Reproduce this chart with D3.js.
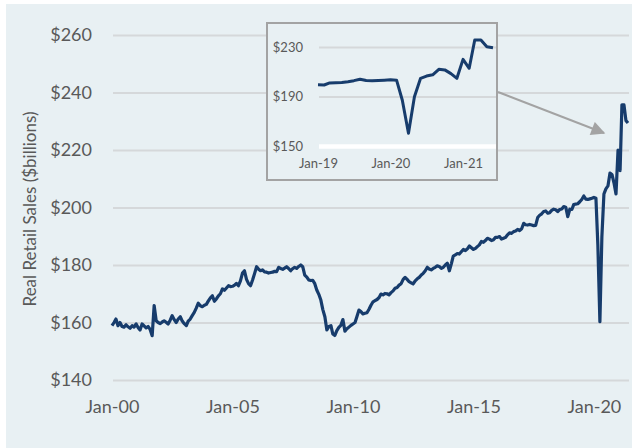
<!DOCTYPE html>
<html>
<head>
<meta charset="utf-8">
<script src="https://cdn.jsdelivr.net/npm/d3@7"></script>
<style>
  body { margin: 0; background: #fff; }
  svg { display: block; font-family: Lato, "Open Sans", sans-serif; }
</style>
</head>
<body>
<svg id="chart" width="632" height="448"></svg>
<script>
// monthly real retail sales, $billions, Jan 2000 - Jun 2021
var firstYear = 2000;
var sales = [
  158.9, 160.0, 161.2, 158.9, 160.0, 158.6, 158.4, 159.2, 158.5, 158.0, 158.9, 158.4, // 2000
  159.5, 158.2, 157.4, 159.5, 158.8, 158.1, 158.6, 157.6, 155.4, 165.9, 160.6, 160.0, // 2001
  159.6, 160.2, 160.6, 160.1, 159.5, 160.8, 162.4, 161.0, 160.0, 161.2, 162.0, 160.5, // 2002
  159.6, 158.9, 160.5, 161.2, 162.4, 163.5, 165.0, 166.7, 165.8, 165.5, 166.0, 166.3, // 2003
  167.5, 168.6, 169.3, 167.4, 168.2, 169.3, 170.0, 171.7, 171.2, 172.0, 172.8, 172.5, // 2004
  172.6, 173.0, 173.6, 172.8, 174.5, 177.2, 178.0, 175.0, 173.5, 172.8, 174.8, 177.0, // 2005
  179.4, 178.5, 178.0, 178.3, 177.6, 177.5, 177.2, 177.4, 177.5, 177.8, 177.7, 179.2, // 2006
  178.8, 178.5, 178.9, 179.4, 178.8, 178.0, 178.7, 179.2, 178.8, 179.5, 180.0, 179.4, // 2007
  176.5, 175.8, 174.8, 174.6, 174.7, 173.5, 171.3, 169.8, 167.8, 164.5, 162.0, 157.4, // 2008
  158.6, 158.9, 156.0, 155.5, 157.2, 158.3, 159.0, 161.0, 157.0, 157.8, 158.4, 159.0, // 2009
  159.5, 160.0, 162.0, 164.3, 163.8, 163.0, 163.2, 163.4, 164.6, 166.0, 167.2, 167.6, // 2010
  168.0, 168.7, 169.9, 169.6, 170.1, 170.0, 169.6, 170.4, 171.0, 171.9, 172.2, 173.0, // 2011
  173.5, 175.0, 175.7, 175.0, 174.2, 173.8, 173.4, 174.5, 175.2, 175.7, 176.5, 177.1, // 2012
  178.0, 179.2, 178.6, 178.3, 178.8, 179.2, 179.7, 179.5, 178.8, 179.2, 180.0, 180.6, // 2013
  178.0, 180.5, 183.1, 183.5, 184.0, 183.8, 184.6, 185.4, 185.0, 185.6, 186.6, 186.0, // 2014
  185.4, 185.8, 186.4, 187.0, 188.2, 187.9, 188.5, 189.3, 189.0, 188.5, 188.8, 189.6, // 2015
  189.6, 189.9, 189.0, 189.3, 189.6, 190.5, 191.2, 191.0, 191.6, 191.8, 192.4, 192.0, // 2016
  192.6, 194.5, 194.0, 193.9, 194.1, 193.9, 193.7, 193.8, 196.5, 197.3, 197.8, 198.6, // 2017
  198.8, 198.0, 198.2, 199.0, 199.4, 199.2, 198.6, 199.3, 199.5, 200.3, 200.1, 196.8, // 2018
  199.4, 199.3, 201.0, 201.2, 201.3, 202.0, 202.8, 204.0, 202.9, 202.8, 203.0, 203.2, // 2019
  203.5, 203.2, 187.0, 160.3, 189.8, 204.7, 206.5, 207.5, 212.0, 211.5, 208.5, 204.7, // 2020
  220.0, 212.8, 235.7, 235.7, 230.2, 229.4                                            // 2021
];

var yTicks = [140, 160, 180, 200, 220, 240, 260];
var xTickYears = [2000, 2005, 2010, 2015, 2020];
var insetYTicks = [150, 190, 230];
var insetXTickYears = [2019, 2020, 2021];
var insetFirstYear = 2019;

var data = sales.map(function (v, i) {
    return { date: new Date(firstYear, i, 1), value: v };
});
var insetData = data.filter(function (d) { return d.date >= new Date(insetFirstYear, 0, 1); });
var lastDate = data[data.length - 1].date;

var textColor = "#595959",
    gridColor = "#d5d8da",
    lineColor = "#173c6c",
    boxColor = "#a3a3a3";

var svg = d3.select("#chart");
var fmt = d3.timeFormat("%b-%y");

svg.append("rect")
    .attr("x", 6).attr("y", 4)
    .attr("width", 626).attr("height", 444)
    .attr("fill", "#e8f0f3");

//  === Main chart ===
var x = d3.scaleTime().domain([data[0].date, lastDate]).range([112, 628]);
var y = d3.scaleLinear().domain([140, 260]).range([380, 35]);

var yAxis = svg.append("g")
    .attr("transform", "translate(113,0)")
    .call(d3.axisLeft(y).tickValues(yTicks).tickSize(-516).tickPadding(21)
        .tickFormat(function (d) { return "$" + d; }));
yAxis.select(".domain").remove();
yAxis.selectAll("line").attr("stroke", gridColor).attr("stroke-width", 2);
yAxis.selectAll("text").attr("fill", textColor).attr("font-size", 18)
    .attr("font-family", "Lato, sans-serif");

var xAxis = svg.append("g")
    .attr("transform", "translate(0,380)")
    .call(d3.axisBottom(x)
        .tickValues(xTickYears.map(function (yr) { return new Date(yr, 0, 1); }))
        .tickSize(0).tickPadding(20).tickFormat(fmt));
xAxis.select(".domain").remove();
xAxis.selectAll("text").attr("fill", textColor).attr("font-size", 18)
    .attr("font-family", "Lato, sans-serif");

svg.append("text")
    .attr("transform", "translate(36,209) rotate(-90)")
    .attr("text-anchor", "middle")
    .attr("fill", textColor)
    .attr("font-size", 17)
    .text("Real Retail Sales ($billions)");

var line = d3.line()
    .x(function (d) { return x(d.date); })
    .y(function (d) { return y(d.value); });

svg.append("path")
    .datum(data)
    .attr("d", line)
    .attr("fill", "none")
    .attr("stroke", lineColor)
    .attr("stroke-width", 3.2)
    .attr("stroke-linejoin", "round");

//  === Arrow from inset to the 2020-21 spike ===
svg.append("defs").append("marker")
    .attr("id", "arrowhead")
    .attr("viewBox", "0 -5 10 10")
    .attr("refX", 9).attr("refY", 0)
    .attr("orient", "auto")
    .attr("markerUnits", "userSpaceOnUse")
    .attr("markerWidth", 16).attr("markerHeight", 14)
    .append("path")
    .attr("d", "M 0,-5 L 10,0 L 0,5 Z")
    .attr("fill", boxColor);

svg.append("line")
    .attr("x1", 498).attr("y1", 92)
    .attr("x2", 604).attr("y2", 133)
    .attr("stroke", boxColor)
    .attr("stroke-width", 2)
    .attr("marker-end", "url(#arrowhead)");

//  === Inset ===
var inset = svg.append("g");
inset.append("rect")
    .attr("x", 267).attr("y", 23)
    .attr("width", 230).attr("height", 157)
    .attr("fill", "#e8f0f3")
    .attr("stroke", boxColor)
    .attr("stroke-width", 2);

var ix = d3.scaleTime().domain([insetData[0].date, lastDate]).range([318, 493]);
var iy = d3.scaleLinear().domain([150, 230]).range([146, 47]);

var iyAxis = inset.append("g")
    .attr("transform", "translate(319,0)")
    .call(d3.axisLeft(iy).tickValues(insetYTicks).tickSize(-177).tickPadding(16)
        .tickFormat(function (d) { return "$" + d; }));
iyAxis.select(".domain").remove();
iyAxis.selectAll("line")
    .attr("stroke", function (d) { return d == 150 ? "#ffffff" : gridColor; })
    .attr("stroke-width", function (d) { return d == 150 ? 4.5 : 2; });
iyAxis.selectAll("text").attr("fill", textColor).attr("font-size", 13)
    .attr("font-family", "Lato, sans-serif");

var ixAxis = inset.append("g")
    .attr("transform", "translate(0,146)")
    .call(d3.axisBottom(ix)
        .tickValues(insetXTickYears.map(function (yr) { return new Date(yr, 0, 1); }))
        .tickSize(0).tickPadding(13).tickFormat(fmt));
ixAxis.select(".domain").remove();
ixAxis.selectAll("text").attr("fill", textColor).attr("font-size", 13)
    .attr("font-family", "Lato, sans-serif");

var iline = d3.line()
    .x(function (d) { return ix(d.date); })
    .y(function (d) { return iy(d.value); });

inset.append("path")
    .datum(insetData)
    .attr("d", iline)
    .attr("fill", "none")
    .attr("stroke", lineColor)
    .attr("stroke-width", 3)
    .attr("stroke-linejoin", "round");
</script>
</body>
</html>
